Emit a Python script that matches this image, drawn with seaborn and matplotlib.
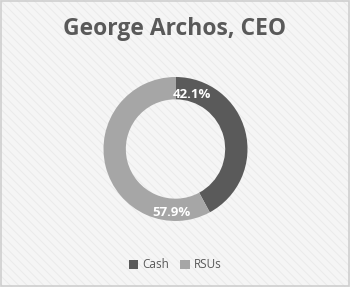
import matplotlib
matplotlib.use("Agg")
import matplotlib.pyplot as plt
import seaborn as sns
from matplotlib.patches import Rectangle, Patch

categories = ["Cash", "RSUs"]
values = [42.1, 57.9]
labels = ["42.1%", "57.9%"]
colors = ["#5a5a5a", "#a6a6a6"]
title = "George Archos, CEO"

sns.set_style("white")
plt.rcParams['font.family'] = ['Open Sans', 'DejaVu Sans']
plt.rcParams['hatch.linewidth'] = 0.6

fig = plt.figure(figsize=(3.5, 2.87), dpi=100)
fig.patch.set_facecolor("#f5f5f5")
bg = Rectangle((0, 0), 1, 1, transform=fig.transFigure, facecolor="#f5f5f5",
               edgecolor="#e9e9e9", hatch="\\\\\\\\", linewidth=0, zorder=-10)
fig.patches.append(bg)
border = Rectangle((0.003, 0.003), 0.994, 0.994, transform=fig.transFigure, facecolor="none",
                   edgecolor="#cfcfcf", linewidth=1.2, zorder=-5)
fig.patches.append(border)

cx, cy, r = 175.5 / 350, 1 - 149 / 287, 72
w = 2 * r / 350
h = 2 * r / 287
ax = fig.add_axes([cx - w / 2, cy - h / 2, w, h])
ax.set_facecolor("none")
wedges, _ = ax.pie(values, colors=colors, startangle=90, counterclock=False,
                   wedgeprops=dict(width=0.31, edgecolor="none"), radius=1)
ax.set_xlim(-1, 1); ax.set_ylim(-1, 1)
ax.set_aspect("equal")
ax.axis("off")

# labels (Excel-like placement)
fig.text(192 / 350, 1 - 95 / 287, labels[0], color="white", fontsize=9.5, fontweight="bold",
         ha="center", va="center")
fig.text(171 / 350, 1 - 213 / 287, labels[1], color="white", fontsize=9.5, fontweight="bold",
         ha="center", va="center")

fig.text(0.5, 1 - 29 / 287, title, color="#595959", fontsize=16.5, fontweight="bold",
         ha="center", va="center")

handles = [Patch(facecolor=c, edgecolor="none") for c in colors]
fig.legend(handles, categories, loc="center", bbox_to_anchor=(0.5, 1 - 265 / 287),
           ncol=2, frameon=False, fontsize=8.5, handlelength=0.8, handleheight=0.8,
           handletextpad=0.3, columnspacing=1.0, labelcolor="#595959")

fig.savefig("out.png", dpi=100, facecolor=fig.get_facecolor())
